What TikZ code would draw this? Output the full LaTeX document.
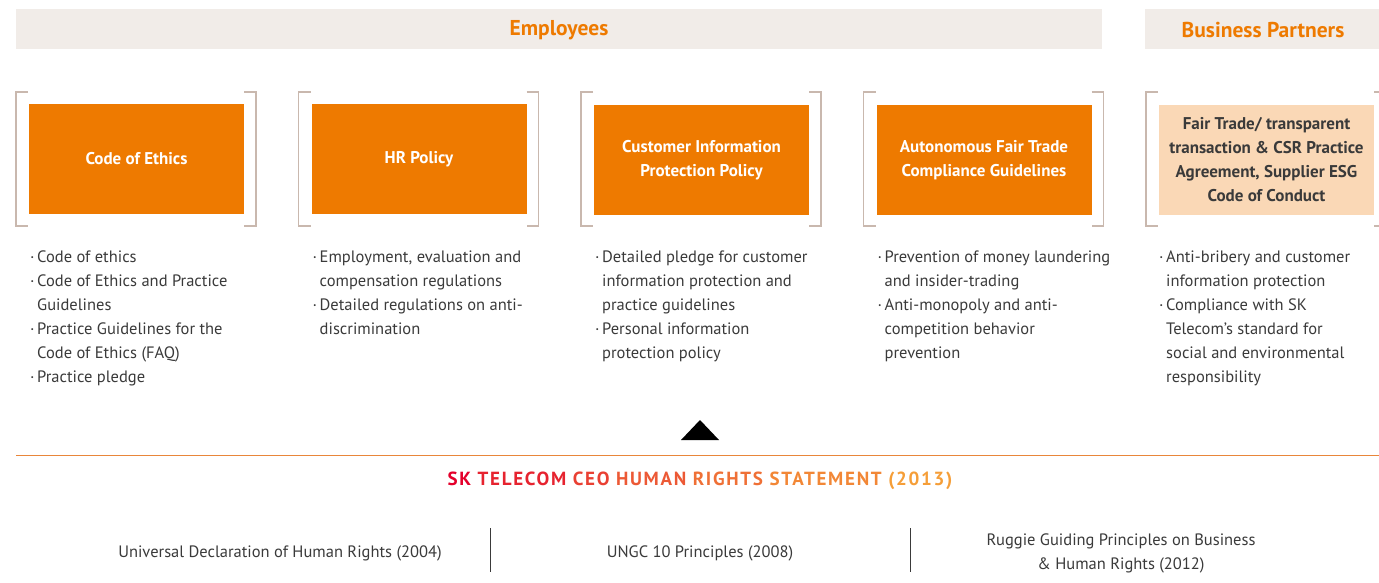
\documentclass[tikz,border=0pt]{standalone}
\usepackage{fontspec}
\setmainfont{PT Sans}
\newfontfamily\headfont[LetterSpace=9]{PT Sans}
\definecolor{skorange}{HTML}{EE7A00}
\definecolor{band}{HTML}{F1ECE8}
\definecolor{brk}{HTML}{C9B8AE}
\definecolor{peach}{HTML}{FAD8B6}
\definecolor{txt}{HTML}{3A3A3A}
\definecolor{rule}{HTML}{E9863A}
\definecolor{hA}{HTML}{E4002B}
\definecolor{hB}{HTML}{E6232F}
\definecolor{hC}{HTML}{E94033}
\definecolor{hD}{HTML}{EC5935}
\definecolor{hE}{HTML}{EF7036}
\definecolor{hF}{HTML}{F28736}
\definecolor{hG}{HTML}{F59E38}
\newcommand{\bul}{\makebox[7pt][l]{·}}
\newcommand{\ind}{\hspace*{7pt}}
\begin{document}
\begin{tikzpicture}[x=1pt,y=-1pt,
  bandbox/.style={fill=band, draw=none, minimum height=40pt, inner sep=0pt,
    font=\fontsize{21.5}{24}\selectfont\bfseries, text=skorange},
  bandtext/.style={inner sep=0pt, font=\fontsize{21.5}{24}\selectfont\bfseries, text=skorange},
  obox/.style={fill=skorange, draw=none, minimum width=215pt, minimum height=110pt,
    inner sep=0pt, text=white, align=center, font=\fontsize{17}{24}\selectfont\bfseries},
  pbox/.style={obox, fill=peach, text=txt},
  bracket/.style={draw=brk, line width=1.2pt},
  list/.style={anchor=north west, inner sep=0pt, align=left, text=txt,
    font=\fontsize{16.5}{24}\selectfont},
  basetext/.style={inner sep=0pt, align=center, text=txt, font=\fontsize{16.5}{24}\selectfont},
  sep/.style={draw=txt, line width=0.8pt}
]
\useasboundingbox (0,0) rectangle (1379,583);

% bands
\node[bandbox, minimum width=1086pt] (emp) at (559,29) {};
\node[bandtext] (empt) at (559,30) {Employees};
\node[bandbox, minimum width=236pt] (bp) at (1263,29) {};
\node[bandtext] (bpt) at (1263,30) {Business Partners};

% brackets
\foreach \x in {16,298.5,581,863.5,1146} {
  \draw[bracket] (\x+12,92) -- (\x,92) -- (\x,226) -- (\x+12,226);
  \draw[bracket] (\x+228,92) -- (\x+240,92) -- (\x+240,226) -- (\x+228,226);
}

% boxes
\node[obox] (b1) at (136.5,159) {Code of Ethics};
\node[obox] (b2) at (419,159) {\raisebox{-1pt}{HR Policy}};
\node[obox] (b3) at (701.5,160) {Customer Information\\Protection Policy};
\node[obox] (b4) at (984,160) {Autonomous Fair Trade\\Compliance Guidelines};
\node[pbox] (b5) at (1266.5,160) {Fair Trade/ transparent\\transaction \& CSR Practice\\Agreement, Supplier ESG\\Code of Conduct};

% lists
\node[list] (l1) at (30,251) {\bul Code of ethics\\\bul Code of Ethics and Practice\\\ind Guidelines\\\bul Practice Guidelines for the\\\ind Code of Ethics (FAQ)\\\bul Practice pledge};
\node[list] (l2) at (312.5,251) {\bul Employment, evaluation and\\\ind compensation regulations\\\bul Detailed regulations on anti-\\\ind discrimination};
\node[list] (l3) at (595,251) {\bul Detailed pledge for customer\\\ind information protection and\\\ind practice guidelines\\\bul Personal information\\\ind protection policy};
\node[list] (l4) at (877.5,251) {\bul Prevention of money laundering\\\ind and insider-trading\\\bul Anti-monopoly and anti-\\\ind competition behavior\\\ind prevention};
\node[list] (l5) at (1159,251) {\bul Anti-bribery and customer\\\ind information protection\\\bul Compliance with SK\\\ind Telecom's standard for\\\ind social and environmental\\\ind responsibility};

% triangle
\fill[black] (681,440) -- (700,420) -- (719,440) -- cycle;

% rule
\coordinate (rl) at (16,455);
\coordinate (rr) at (1379,455);
\draw[rule, line width=1pt] (rl) -- (rr);

% heading
\node[inner sep=0pt, font=\headfont\fontsize{19}{22}\selectfont\bfseries] (head) at (700,481)
 {\textcolor{hA}{SK} \textcolor{hB}{TELECOM} \textcolor{hC}{CEO} \textcolor{hD}{HUMAN} \textcolor{hE}{RIGHTS} \textcolor{hF}{STATEMENT} \textcolor{hG}{(2013)}};

% bottom
\node[basetext] (u1) at (280,553) {Universal Declaration of Human Rights (2004)};
\node[basetext] (u2) at (700,553) {UNGC 10 Principles (2008)};
\node[basetext] (u3) at (1121,553) {Ruggie Guiding Principles on Business\\\& Human Rights (2012)};
\coordinate (s1a) at (490,528); \coordinate (s1b) at (490,572);
\coordinate (s2a) at (910,528); \coordinate (s2b) at (910,572);
\draw[sep] (s1a) -- (s1b);
\draw[sep] (s2a) -- (s2b);
\end{tikzpicture}
\end{document}
